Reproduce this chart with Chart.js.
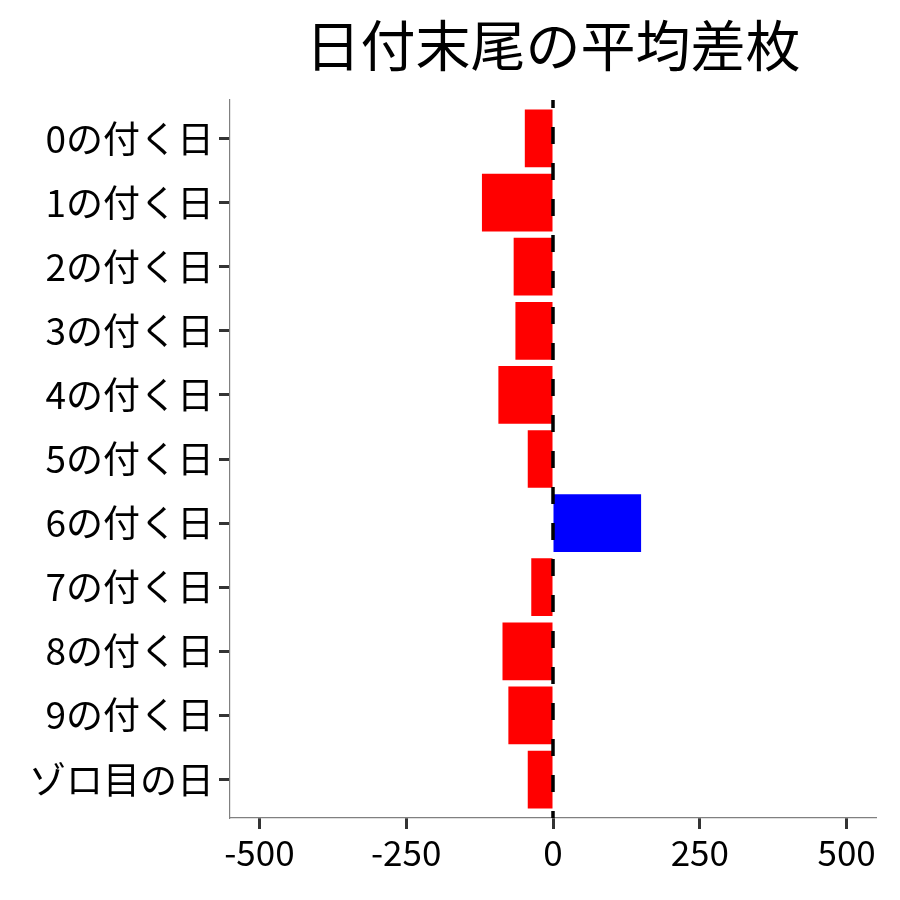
<!DOCTYPE html>
<html>
<head>
<meta charset="utf-8">
<script src="https://cdn.jsdelivr.net/npm/chart.js@4"></script>
<style>
  html, body { margin: 0; padding: 0; background: #fff; }
  #wrap { width: 900px; height: 900px; }
</style>
</head>
<body>
<div id="wrap"><canvas id="chart" width="900" height="900"></canvas></div>
<script>
// Data
const categories = ['0の付く日', '1の付く日', '2の付く日', '3の付く日', '4の付く日', '5の付く日',
                    '6の付く日', '7の付く日', '8の付く日', '9の付く日', 'ゾロ目の日'];
const avgDiff = [-48, -121, -67, -64, -93, -43, 150, -37, -86, -76, -43];
const xTicks = [-500, -250, 0, 250, 500];
const xRange = [-550, 550];

const FONT = '"Noto Sans CJK JP", "Noto Sans", sans-serif';

// dashed line at zero, drawn over the bars
const zeroLine = {
  id: 'zeroLine',
  afterDatasetsDraw(chart) {
    const { ctx, chartArea, scales } = chart;
    const x = scales.x.getPixelForValue(0);
    ctx.save();
    ctx.strokeStyle = '#000';
    ctx.lineWidth = 3.5;
    ctx.setLineDash([17, 19]);
    ctx.lineDashOffset = 9;
    ctx.beginPath();
    ctx.moveTo(x, chartArea.top);
    ctx.lineTo(x, chartArea.bottom);
    ctx.stroke();
    ctx.restore();
  }
};

const ctx = document.getElementById('chart').getContext('2d');
const chart = new Chart(ctx, {
  type: 'bar',
  data: {
    datasets: [{
      data: avgDiff.map((v, i) => ({ x: v, y: i })),
      backgroundColor: avgDiff.map(v => v < 0 ? '#ff0000' : '#0000ff'),
      borderWidth: 0,
      barPercentage: 0.9,
      categoryPercentage: 1.0
    }]
  },
  plugins: [zeroLine],
  options: {
    indexAxis: 'y',
    responsive: false,
    animation: false,
    layout: { padding: { top: 10, right: 24, left: 0, bottom: 0 } },
    plugins: {
      legend: { display: false },
      tooltip: { enabled: false },
      title: {
        display: true,
        text: '日付末尾の平均差枚',
        fullSize: false,
        color: '#000',
        font: { family: FONT, size: 55, weight: 'normal', lineHeight: 1.2 },
        padding: { top: 2, bottom: 22 }
      }
    },
    scales: {
      x: {
        type: 'linear',
        min: xRange[0],
        max: xRange[1],
        afterBuildTicks(scale) { scale.ticks = xTicks.map(v => ({ value: v })); },
        afterFit(scale) { scale.height = 82; },
        border: { display: true, color: '#808080', width: 1.2 },
        grid: { display: true, drawOnChartArea: false, drawTicks: true, tickLength: 11, tickWidth: 3, tickColor: '#333' },
        ticks: { color: '#000', padding: 3, maxRotation: 0, font: { family: FONT, size: 35 } }
      },
      y: {
        type: 'linear',
        reverse: true,
        offset: false,
        min: -0.6,
        max: categories.length - 1 + 0.6,
        afterBuildTicks(scale) { scale.ticks = categories.map((c, i) => ({ value: i })); },
        afterFit(scale) { scale.width = 230; },
        border: { display: true, color: '#808080', width: 1.2 },
        grid: { display: true, offset: false, drawOnChartArea: false, drawTicks: true, tickLength: 11, tickWidth: 3, tickColor: '#333' },
        ticks: {
          color: '#000',
          padding: 5,
          font: { family: FONT, size: 37 },
          callback: (v) => categories[v]
        }
      }
    }
  }
});
</script>
</body>
</html>
